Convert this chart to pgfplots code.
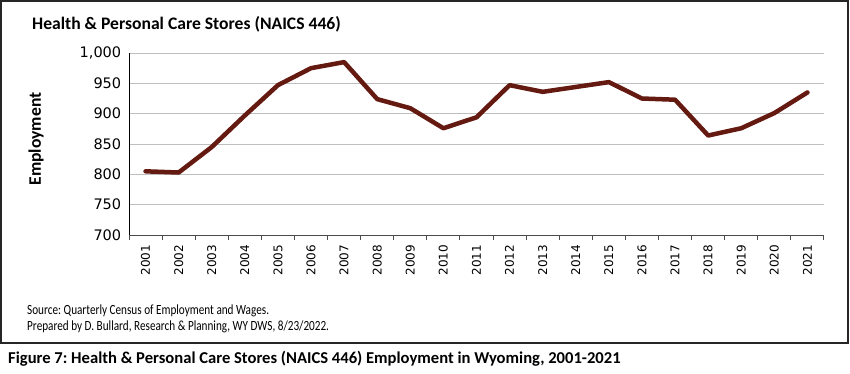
\documentclass[border=0pt]{standalone}
\usepackage{fontspec}
\setmainfont{Carlito}
\newfontfamily\narrowfont[FakeStretch=0.8]{Carlito}
\newfontfamily\dejavu{DejaVu Sans}
\usepackage{pgfplots}
\pgfplotsset{compat=1.18}
\definecolor{linebrown}{RGB}{100,26,16}
\frenchspacing
\begin{document}
\frenchspacing
\begin{tikzpicture}
\useasboundingbox (0,0) rectangle (850pt,-373pt);
\draw[line width=1.6pt, black!85] (1pt,-1pt) rectangle (848pt,-343pt);
\node[anchor=west, inner sep=0pt, font=\fontsize{17.6}{20}\selectfont\bfseries] at (32pt,-24pt) {Health \& Personal Care Stores (NAICS 446)};
\node[rotate=90, font=\fontsize{17.6}{19}\selectfont\bfseries] at (36pt,-139pt) {Employment};
\node[anchor=west, inner sep=0pt, font=\narrowfont\fontsize{14}{16}\selectfont] at (27pt,-311pt) {Source: Quarterly Census of Employment and Wages.};
\node[anchor=west, inner sep=0pt, font=\narrowfont\fontsize{14}{16}\selectfont] at (27pt,-327pt) {Prepared by D. Bullard, Research \& Planning, WY DWS, 8/23/2022.};
\node[anchor=west, inner sep=0pt, font=\fontsize{16.6}{19}\selectfont\bfseries] at (8pt,-359pt) {Figure 7: Health \& Personal Care Stores (NAICS 446) Employment in Wyoming, 2001-2021};
\begin{axis}[
  at={(129pt,-235pt)}, anchor=south west,
  scale only axis, width=695pt, height=182pt,
  xmin=2000.5, xmax=2021.5, ymin=700, ymax=1000,
  ytick={700,750,...,1000},
  xtick={2001,2002,...,2021},
  minor xtick={2000.5,2001.5,...,2021.5},
  axis x line*=bottom, axis y line*=left,
  x axis line style={black!70, line width=1pt, -},
  y axis line style={black, line width=1pt, -},
  ymajorgrids, grid style={black!25, line width=1pt},
  major tick style={draw=none},
  minor tick style={black!70, line width=1pt},
  minor tick length=5pt, tick align=outside,
  /pgf/number format/assume math mode=true,
  y tick label style={font=\dejavu\fontsize{14.5}{16}\selectfont, /pgf/number format/1000 sep={,}},
  x tick label style={rotate=90, anchor=east, /pgf/number format/1000 sep={}, font=\dejavu\fontsize{12}{14}\selectfont},
  xticklabel shift=2pt,
  clip=false,
]
\addplot[linebrown, line width=4.5pt, line join=round, line cap=round] coordinates {
(2001,805) (2002,803) (2003,845) (2004,897) (2005,947) (2006,975) (2007,985)
(2008,924) (2009,909) (2010,876) (2011,894) (2012,947) (2013,936) (2014,944)
(2015,952) (2016,925) (2017,923) (2018,864) (2019,876) (2020,901) (2021,935)
};
\end{axis}
\end{tikzpicture}
\end{document}
